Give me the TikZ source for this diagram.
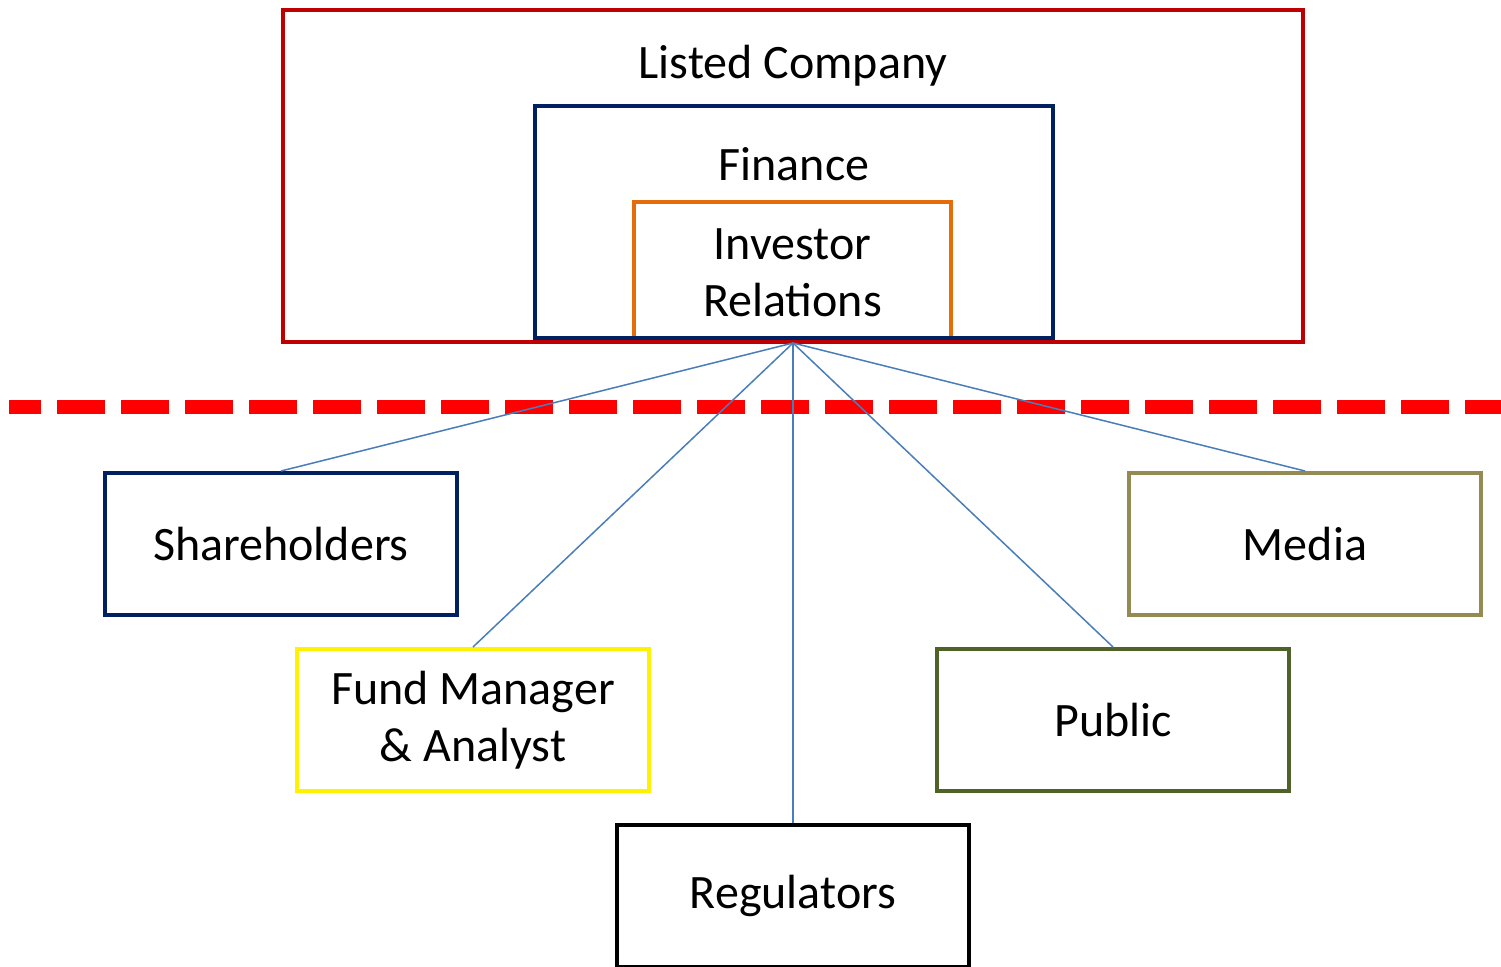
\documentclass[tikz,border=0pt]{standalone}
\usepackage{fontspec}
\setmainfont{Carlito}
\usetikzlibrary{positioning}
\definecolor{firmred}{HTML}{C00000}
\definecolor{navy}{HTML}{002060}
\definecolor{irorange}{HTML}{E46C0A}
\definecolor{olive}{HTML}{4F6228}
\definecolor{khaki}{HTML}{948A54}
\definecolor{linkblue}{HTML}{4A7EBB}

\begin{document}
\begin{tikzpicture}[x=0.5pt,y=-0.5pt,
every node/.style={font=\fontsize{24}{28.5}\selectfont},
frame/.style={draw,rectangle,line width=2pt,inner sep=0pt},
party/.style={frame,minimum width=176pt,minimum height=71pt,align=center},
link/.style={draw=linkblue,line width=0.75pt}]
\useasboundingbox (0,0) rectangle (1501,966);
% company side
\node (listed) [frame,draw=firmred,minimum width=510pt,minimum height=166pt] at (793,176) {};
\node (ir) [frame,draw=irorange,minimum width=158.5pt,minimum height=68pt] at (792.5,270) {};
\node (finance) [frame,draw=navy,minimum width=259pt,minimum height=116pt] at (794,222) {};
\node (listedlbl) [below=35pt of listed.north,anchor=base] {Listed Company};
\node (financelbl) [below=38pt of finance.north,anchor=base] {Finance};
\node (irlbl) [below=58pt of ir.north,anchor=base,align=center] {Investor\\Relations};
\coordinate (hub) at (793,343);

% boundary
\draw [red,line width=7pt,dash pattern=on 24pt off 8pt,dash phase=8pt] (9,407) -- (1501,407);

% outside parties
\node (share) [party,draw=navy] at (281,544) {Shareholders};
\node (fund) [party,draw=yellow] at (473,720) {Fund Manager\\\& Analyst};
\node (reg) [party,draw=black] at (793,896) {Regulators};
\node (public) [party,draw=olive] at (1113,720) {Public};
\node (media) [party,draw=khaki] at (1305,544) {Media};

\draw [link] (hub) -- (share.north);
\draw [link] (hub) -- (fund.north);
\draw [link] (hub) -- (reg.north);
\draw [link] (hub) -- (public.north);
\draw [link] (hub) -- (media.north);
\end{tikzpicture}
\end{document}
